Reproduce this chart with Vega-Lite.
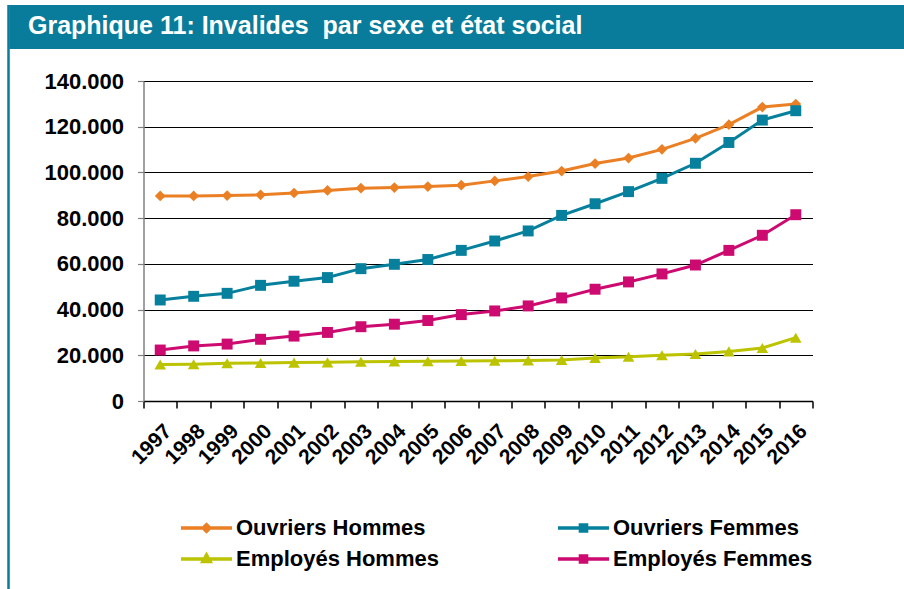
{
  "$schema": "https://vega.github.io/schema/vega-lite/v6.json",
  "background": "white",
  "padding": {"left": 7.5, "top": 5, "right": 0, "bottom": 0},
  "config": {"font": "Liberation Sans", "view": {"stroke": null}},
  "columns": 2,
  "align": "none",
  "spacing": 0,
  "concat": [
    {
      "width": 2,
      "height": 584,
      "data": {"values": [{}]},
      "mark": {"type": "rect", "color": "#087C9A"},
      "encoding": {},
      "view": {"fill": "#087C9A", "stroke": null}
    },
    {
      "columns": 1,
      "align": "none",
      "spacing": 21,
      "concat": [
        {
          "width": 895,
          "height": 44,
          "data": {"values": [{}]},
          "mark": {"type": "rect", "color": "#087C9A"},
          "encoding": {},
          "view": {"fill": "#087C9A", "stroke": null},
          "title": {
            "text": "Graphique 11: Invalides\u00a0 par sexe et état social",
            "anchor": "start",
            "frame": "group",
            "orient": "top",
            "offset": -54,
            "dx": 18.5,
            "baseline": "alphabetic",
            "color": "white",
            "fontSize": 25,
            "fontWeight": "bold",
            "font": "Liberation Sans"
          }
        },
        {
          "columns": 2,
          "align": "none",
          "spacing": 0,
          "concat": [
            {
              "width": 1,
              "height": 1,
              "data": {"values": []},
              "mark": {"type": "rect", "opacity": 0},
              "encoding": {},
              "view": {"stroke": null}
            },
            {
              "width": 669,
              "height": 320,
              "data": {
                "values": [
                  {"year": "1997", "series": "Ouvriers Hommes", "value": 89700},
                  {"year": "1998", "series": "Ouvriers Hommes", "value": 89700},
                  {"year": "1999", "series": "Ouvriers Hommes", "value": 89900},
                  {"year": "2000", "series": "Ouvriers Hommes", "value": 90200},
                  {"year": "2001", "series": "Ouvriers Hommes", "value": 91000},
                  {"year": "2002", "series": "Ouvriers Hommes", "value": 92100},
                  {"year": "2003", "series": "Ouvriers Hommes", "value": 93100},
                  {"year": "2004", "series": "Ouvriers Hommes", "value": 93400},
                  {"year": "2005", "series": "Ouvriers Hommes", "value": 93800},
                  {"year": "2006", "series": "Ouvriers Hommes", "value": 94400},
                  {"year": "2007", "series": "Ouvriers Hommes", "value": 96300},
                  {"year": "2008", "series": "Ouvriers Hommes", "value": 98200},
                  {"year": "2009", "series": "Ouvriers Hommes", "value": 100600},
                  {"year": "2010", "series": "Ouvriers Hommes", "value": 103900},
                  {"year": "2011", "series": "Ouvriers Hommes", "value": 106300},
                  {"year": "2012", "series": "Ouvriers Hommes", "value": 110100},
                  {"year": "2013", "series": "Ouvriers Hommes", "value": 114900},
                  {"year": "2014", "series": "Ouvriers Hommes", "value": 120900},
                  {"year": "2015", "series": "Ouvriers Hommes", "value": 128600},
                  {"year": "2016", "series": "Ouvriers Hommes", "value": 129900},
                  {"year": "1997", "series": "Ouvriers Femmes", "value": 44200},
                  {"year": "1998", "series": "Ouvriers Femmes", "value": 45800},
                  {"year": "1999", "series": "Ouvriers Femmes", "value": 47100},
                  {"year": "2000", "series": "Ouvriers Femmes", "value": 50600},
                  {"year": "2001", "series": "Ouvriers Femmes", "value": 52400},
                  {"year": "2002", "series": "Ouvriers Femmes", "value": 54000},
                  {"year": "2003", "series": "Ouvriers Femmes", "value": 57900},
                  {"year": "2004", "series": "Ouvriers Femmes", "value": 59800},
                  {"year": "2005", "series": "Ouvriers Femmes", "value": 61900},
                  {"year": "2006", "series": "Ouvriers Femmes", "value": 65900},
                  {"year": "2007", "series": "Ouvriers Femmes", "value": 70000},
                  {"year": "2008", "series": "Ouvriers Femmes", "value": 74400},
                  {"year": "2009", "series": "Ouvriers Femmes", "value": 81200},
                  {"year": "2010", "series": "Ouvriers Femmes", "value": 86300},
                  {"year": "2011", "series": "Ouvriers Femmes", "value": 91600},
                  {"year": "2012", "series": "Ouvriers Femmes", "value": 97400},
                  {"year": "2013", "series": "Ouvriers Femmes", "value": 104000},
                  {"year": "2014", "series": "Ouvriers Femmes", "value": 113100},
                  {"year": "2015", "series": "Ouvriers Femmes", "value": 122900},
                  {"year": "2016", "series": "Ouvriers Femmes", "value": 127000},
                  {"year": "1997", "series": "Employés Hommes", "value": 16000},
                  {"year": "1998", "series": "Employés Hommes", "value": 16100},
                  {"year": "1999", "series": "Employés Hommes", "value": 16500},
                  {"year": "2000", "series": "Employés Hommes", "value": 16600},
                  {"year": "2001", "series": "Employés Hommes", "value": 16800},
                  {"year": "2002", "series": "Employés Hommes", "value": 16900},
                  {"year": "2003", "series": "Employés Hommes", "value": 17200},
                  {"year": "2004", "series": "Employés Hommes", "value": 17300},
                  {"year": "2005", "series": "Employés Hommes", "value": 17400},
                  {"year": "2006", "series": "Employés Hommes", "value": 17500},
                  {"year": "2007", "series": "Employés Hommes", "value": 17600},
                  {"year": "2008", "series": "Employés Hommes", "value": 17700},
                  {"year": "2009", "series": "Employés Hommes", "value": 17900},
                  {"year": "2010", "series": "Employés Hommes", "value": 18800},
                  {"year": "2011", "series": "Employés Hommes", "value": 19400},
                  {"year": "2012", "series": "Employés Hommes", "value": 20000},
                  {"year": "2013", "series": "Employés Hommes", "value": 20600},
                  {"year": "2014", "series": "Employés Hommes", "value": 21700},
                  {"year": "2015", "series": "Employés Hommes", "value": 23200},
                  {"year": "2016", "series": "Employés Hommes", "value": 27700},
                  {"year": "1997", "series": "Employés Femmes", "value": 22300},
                  {"year": "1998", "series": "Employés Femmes", "value": 24100},
                  {"year": "1999", "series": "Employés Femmes", "value": 24900},
                  {"year": "2000", "series": "Employés Femmes", "value": 27000},
                  {"year": "2001", "series": "Employés Femmes", "value": 28400},
                  {"year": "2002", "series": "Employés Femmes", "value": 30000},
                  {"year": "2003", "series": "Employés Femmes", "value": 32500},
                  {"year": "2004", "series": "Employés Femmes", "value": 33600},
                  {"year": "2005", "series": "Employés Femmes", "value": 35200},
                  {"year": "2006", "series": "Employés Femmes", "value": 37800},
                  {"year": "2007", "series": "Employés Femmes", "value": 39400},
                  {"year": "2008", "series": "Employés Femmes", "value": 41600},
                  {"year": "2009", "series": "Employés Femmes", "value": 45100},
                  {"year": "2010", "series": "Employés Femmes", "value": 48900},
                  {"year": "2011", "series": "Employés Femmes", "value": 52100},
                  {"year": "2012", "series": "Employés Femmes", "value": 55600},
                  {"year": "2013", "series": "Employés Femmes", "value": 59500},
                  {"year": "2014", "series": "Employés Femmes", "value": 65900},
                  {"year": "2015", "series": "Employés Femmes", "value": 72500},
                  {"year": "2016", "series": "Employés Femmes", "value": 81500}
                ]
              },
              "encoding": {
                "x": {
                  "field": "year",
                  "type": "ordinal",
                  "scale": {"type": "band", "paddingInner": 0, "paddingOuter": 0},
                  "axis": {
                    "title": null,
                    "labelAngle": -45,
                    "labelFontSize": 21,
                    "labelFontWeight": "bold",
                    "labelColor": "black",
                    "labelFont": "Liberation Sans",
                    "labelPadding": 12,
                    "tickBand": "extent",
                    "tickSize": 7,
                    "tickColor": "black",
                    "tickWidth": 1.5,
                    "domainColor": "black",
                    "domainWidth": 1.5,
                    "grid": false
                  }
                },
                "y": {
                  "field": "value",
                  "type": "quantitative",
                  "scale": {"domain": [0, 140000], "nice": false},
                  "axis": {
                    "title": null,
                    "values": [0, 20000, 40000, 60000, 80000, 100000, 120000, 140000],
                    "labelExpr": "replace(format(datum.value, ','), ',', '.')",
                    "labelFontSize": 22,
                    "labelFontWeight": "bold",
                    "labelColor": "black",
                    "labelFont": "Liberation Sans",
                    "labelPadding": 14,
                    "tickSize": 6,
                    "tickColor": "#808080",
                    "tickWidth": 1.2,
                    "domainColor": "#808080",
                    "domainWidth": 1.5,
                    "gridColor": "black",
                    "gridWidth": 1.2,
                    "minExtent": 132.5,
                    "maxExtent": 132.5
                  }
                },
                "color": {
                  "field": "series",
                  "type": "nominal",
                  "scale": {
                    "domain": ["Ouvriers Hommes", "Employés Hommes", "Ouvriers Femmes", "Employés Femmes"],
                    "range": ["#EA7F24", "#BCC300", "#07809D", "#CC0A70"]
                  },
                  "legend": {
                    "orient": "none",
                    "legendX": 171.5,
                    "legendY": 507.5,
                    "columns": 2,
                    "title": null,
                    "symbolSize": 2601,
                    "clipHeight": 31,
                    "columnPadding": 117,
                    "rowPadding": 0,
                    "labelOffset": 2,
                    "labelFontSize": 22,
                    "labelFontWeight": "bold",
                    "labelColor": "black",
                    "labelFont": "Liberation Sans",
                    "labelLimit": 400,
                    "padding": 0,
                    "encode": {
                      "symbols": {
                        "update": {
                          "shape": {"signal": "datum.value === 'Ouvriers Hommes' ? 'M-1,0H1M0,-0.13L0.13,0L0,0.13L-0.13,0Z' : datum.value === 'Employés Hommes' ? 'M-1,0H1M0,-0.15L0.14,0.1H-0.14Z' : 'M-1,0H1M-0.12,-0.12H0.12V0.12H-0.12Z'"},
                          "stroke": {"signal": "datum.value === 'Ouvriers Hommes' ? '#EA7F24' : datum.value === 'Ouvriers Femmes' ? '#07809D' : datum.value === 'Employés Hommes' ? '#BCC300' : '#CC0A70'"},
                          "fill": {"signal": "datum.value === 'Ouvriers Hommes' ? '#EA7F24' : datum.value === 'Ouvriers Femmes' ? '#07809D' : datum.value === 'Employés Hommes' ? '#BCC300' : '#CC0A70'"},
                          "strokeWidth": {"value": 3.5},
                          "opacity": {"value": 1}
                        }
                      }
                    }
                  }
                }
              },
              "layer": [
                {"mark": {"type": "line", "strokeWidth": 3}, "encoding": {}},
                {
                  "transform": [{"filter": "datum.series === 'Ouvriers Hommes'"}],
                  "mark": {"type": "point", "filled": true, "size": 115, "opacity": 1, "shape": "diamond"},
                  "encoding": {}
                },
                {
                  "transform": [{"filter": "datum.series === 'Ouvriers Femmes' || datum.series === 'Employés Femmes'"}],
                  "mark": {"type": "point", "filled": true, "size": 120, "opacity": 1, "shape": "square"},
                  "encoding": {}
                },
                {
                  "transform": [{"filter": "datum.series === 'Employés Hommes'"}],
                  "mark": {"type": "point", "filled": true, "size": 135, "opacity": 1, "shape": "triangle-up"},
                  "encoding": {}
                }
              ]
            }
          ]
        }
      ]
    }
  ]
}
